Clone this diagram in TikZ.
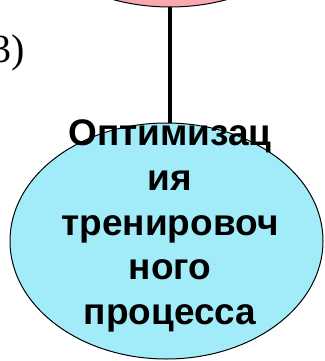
\documentclass[tikz,border=0pt]{standalone}
\usepackage{fontspec}
\setmainfont{Liberation Serif}
\newfontfamily\labelsans{Liberation Sans}
\usetikzlibrary{shapes.geometric}
\definecolor{pinkfill}{RGB}{249,168,176}
\definecolor{bluefill}{RGB}{162,236,250}
\tikzset{
  bubble/.style={ellipse, draw=black, line width=1pt, inner sep=0pt},
  link/.style={line width=4pt, draw=black},
  bubbletext/.style={align=center, font=\labelsans\bfseries\fontsize{37}{44.75}\selectfont, inner sep=0pt}
}
\begin{document}
\begin{tikzpicture}
\useasboundingbox (0,0) rectangle (324pt,-361pt);
\clip (0,0) rectangle (324pt,-361pt);
\node[bubble, fill=pinkfill, minimum width=314pt, minimum height=220pt] (top) at (170pt,103pt) {};
\node[bubble, fill=bluefill, minimum width=313pt, minimum height=236pt] (opt) at (166.5pt,-241pt) {};
\draw[link] (top.south) -- (top.south |- opt.north);
\node[bubbletext] (opttext) at (170pt,-226pt) {Оптимизац\\ия\\тренировоч\\ного\\процесса};
\node[font=\fontsize{40}{48}\selectfont, inner sep=0pt, anchor=base east] (num) at (25pt,-63pt) {3)};
\end{tikzpicture}
\end{document}
